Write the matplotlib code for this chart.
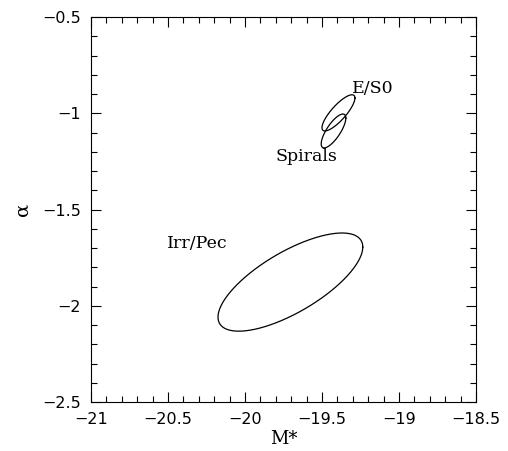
import numpy as np
import matplotlib
matplotlib.use("Agg")
import matplotlib.pyplot as plt
from matplotlib.ticker import MultipleLocator

# Schechter fit confidence contours (M*, alpha) per morphological class
classes = ["E/S0", "Spirals", "Irr/Pec"]
mstar_center = [-19.393, -19.425, -19.705]
alpha_center = [-0.998, -1.092, -1.877]
mstar_halfwidth = [0.107, 0.080, 0.470]
alpha_halfwidth = [0.094, 0.088, 0.255]
correlation = [0.82, 0.76, 0.713]

# label anchor (left edge, vertical centre)
label_x = [-19.305, -19.799, -20.506]
label_y = [-0.869, -1.227, -1.674]

fig = plt.figure(figsize=(5.08, 4.51), dpi=100)
ax = fig.add_axes([0.179, 0.1086, 0.758, 0.8537])

t = np.linspace(0, 2 * np.pi, 400)
for i in range(len(classes)):
    phi = np.arccos(correlation[i])
    x = mstar_center[i] + mstar_halfwidth[i] * np.cos(t)
    y = alpha_center[i] + alpha_halfwidth[i] * np.cos(t - phi)
    ax.plot(x, y, color="black", lw=0.9)
    ax.text(label_x[i], label_y[i], classes[i], family="DejaVu Serif",
            fontsize=12.5, ha="left", va="center")

ax.set_xlim(-21, -18.5)
ax.set_ylim(-2.5, -0.5)
ax.xaxis.set_major_locator(MultipleLocator(0.5))
ax.xaxis.set_minor_locator(MultipleLocator(0.1))
ax.yaxis.set_major_locator(MultipleLocator(0.5))
ax.yaxis.set_minor_locator(MultipleLocator(0.1))
ax.xaxis.set_major_formatter(plt.FuncFormatter(lambda v, p: f"{v:g}".replace("-", "\u2212")))
ax.yaxis.set_major_formatter(plt.FuncFormatter(lambda v, p: f"{v:g}".replace("-", "\u2212")))

ax.tick_params(which="both", direction="in", top=True, right=True, width=0.8)
ax.tick_params(which="major", length=7, labelsize=11.5, pad=7)
ax.tick_params(which="minor", length=4)
for s in ax.spines.values():
    s.set_linewidth(0.8)

ax.set_xlabel("M*", family="DejaVu Serif", fontsize=13, labelpad=2)
ax.set_ylabel("\u03b1", family="DejaVu Serif", fontsize=14, labelpad=8)

fig.savefig("out.png", dpi=100)
